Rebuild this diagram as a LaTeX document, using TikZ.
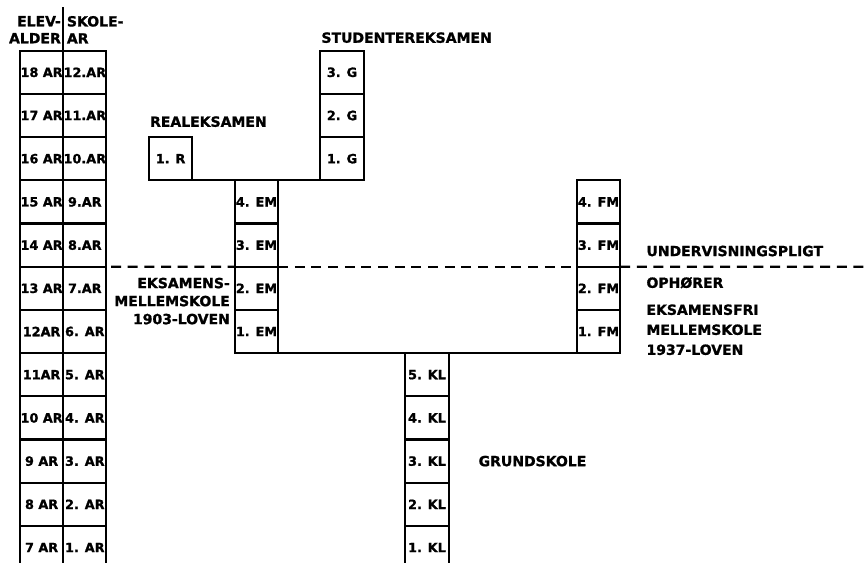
\documentclass[tikz,border=0pt]{standalone}
\usepackage{fontspec}
\setmainfont{DejaVu Sans}[BoldFeatures={FakeBold=1.2}]
\usepackage{tikz}
\usetikzlibrary{positioning}

\begin{document}
\begin{tikzpicture}[
 x=0.75pt,y=-0.75pt,line width=1.6pt,
 cell/.style={draw,minimum width=32.4pt,minimum height=32.4pt,inner sep=0pt,
   outer sep=0pt,font=\bfseries\fontsize{9.6}{11}\selectfont},
 heading/.style={inner sep=0pt,font=\bfseries\fontsize{10.5}{13.5}\selectfont},
 cutline/.style={line width=1.6pt,dash pattern=on 7.5pt off 5pt}
]
\useasboundingbox (0,0) rectangle (868,563);
\clip (0,0) rectangle (868,563);
% elevalder
\node[cell] (age7) at (41.6,547.5) {7 AR};
\node[cell,above=0pt of age7] (age8) {8 AR};
\node[cell,above=0pt of age8] (age9) {9 AR};
\node[cell,above=0pt of age9] (age10) {10 AR};
\node[cell,above=0pt of age10] (age11) {11AR};
\node[cell,above=0pt of age11] (age12) {12AR};
\node[cell,above=0pt of age12] (age13) {13 AR};
\node[cell,above=0pt of age13] (age14) {14 AR};
\node[cell,above=0pt of age14] (age15) {15 AR};
\node[cell,above=0pt of age15] (age16) {16 AR};
\node[cell,above=0pt of age16] (age17) {17 AR};
\node[cell,above=0pt of age17] (age18) {18 AR};
% skoleaar
\node[cell,right=0pt of age7] (yr1) {1. AR};
\node[cell,right=0pt of age8] (yr2) {2. AR};
\node[cell,right=0pt of age9] (yr3) {3. AR};
\node[cell,right=0pt of age10] (yr4) {4. AR};
\node[cell,right=0pt of age11] (yr5) {5. AR};
\node[cell,right=0pt of age12] (yr6) {6. AR};
\node[cell,right=0pt of age13] (yr7) {7.AR};
\node[cell,right=0pt of age14] (yr8) {8.AR};
\node[cell,right=0pt of age15] (yr9) {9.AR};
\node[cell,right=0pt of age16] (yr10) {10.AR};
\node[cell,right=0pt of age17] (yr11) {11.AR};
\node[cell,right=0pt of age18] (yr12) {12.AR};
\coordinate (divtop) at (63.2,7);
\draw (age18.north east) -- (divtop);
\node[heading,align=right,font=\bfseries\fontsize{10.5}{12.75}\selectfont,
  below left=6pt and 1pt of divtop] (elevalder) {ELEV-\\ALDER};
\node[heading,align=left,font=\bfseries\fontsize{10.5}{12.75}\selectfont,
  below right=6pt and 2pt of divtop] (skoleaar) {SKOLE-\\AR};
% grundskole
\node[cell] (kl1) at (427,547.5) {1. KL};
\node[cell,above=0pt of kl1] (kl2) {2. KL};
\node[cell,above=0pt of kl2] (kl3) {3. KL};
\node[cell,above=0pt of kl3] (kl4) {4. KL};
\node[cell,above=0pt of kl4] (kl5) {5. KL};
\node[heading,right=21.75pt of kl3] (grund) {GRUNDSKOLE};
% mellemskoler
\node[cell] (em1) at (256.5,331.5) {1. EM};
\node[cell,above=0pt of em1] (em2) {2. EM};
\node[cell,above=0pt of em2] (em3) {3. EM};
\node[cell,above=0pt of em3] (em4) {4. EM};
\node[cell] (fm1) at (598.5,331.5) {1. FM};
\node[cell,above=0pt of fm1] (fm2) {2. FM};
\node[cell,above=0pt of fm2] (fm3) {3. FM};
\node[cell,above=0pt of fm3] (fm4) {4. FM};
\draw (em1.south west) -- (fm1.south east);
\node[heading,align=right,below left=7.5pt and 3pt of em2.north west] (emlabel)
  {EKSAMENS-\\MELLEMSKOLE\\1903-LOVEN};
% realskole og gymnasium
\node[cell] (r1) at (170.6,158.7) {1. R};
\node[cell] (g1) at (342,158.7) {1. G};
\node[cell,above=0pt of g1] (g2) {2. G};
\node[cell,above=0pt of g2] (g3) {3. G};
\draw (r1.south west) -- (g1.south east);
\node[heading,above right=6.8pt and 0pt of r1.north west] (realeks) {REALEKSAMEN};
\node[heading,above right=5pt and 0pt of g3.north west] (studeks) {STUDENTEREKSAMEN};
% undervisningspligt
\coordinate (cutleft) at (111,266.7);
\coordinate (cutright) at (868,266.7);
\draw[cutline] (cutleft) -- (em2.north west);
\draw[cutline] (em2.north east) -- (fm2.north west);
\draw[cutline] (fm2.north east) -- (cutright);
\node[heading,above right=7pt and 19pt of fm2.north east] (plikt) {UNDERVISNINGSPLIGT};
\node[heading,below right=7pt and 19pt of fm2.north east] (ophoerer) {OPHØRER};
\node[heading,align=left,font=\bfseries\fontsize{10.5}{15}\selectfont,
  below right=10.5pt and 0pt of ophoerer.south west] (fmlabel)
  {EKSAMENSFRI\\MELLEMSKOLE\\1937-LOVEN};
\end{tikzpicture}
\end{document}
